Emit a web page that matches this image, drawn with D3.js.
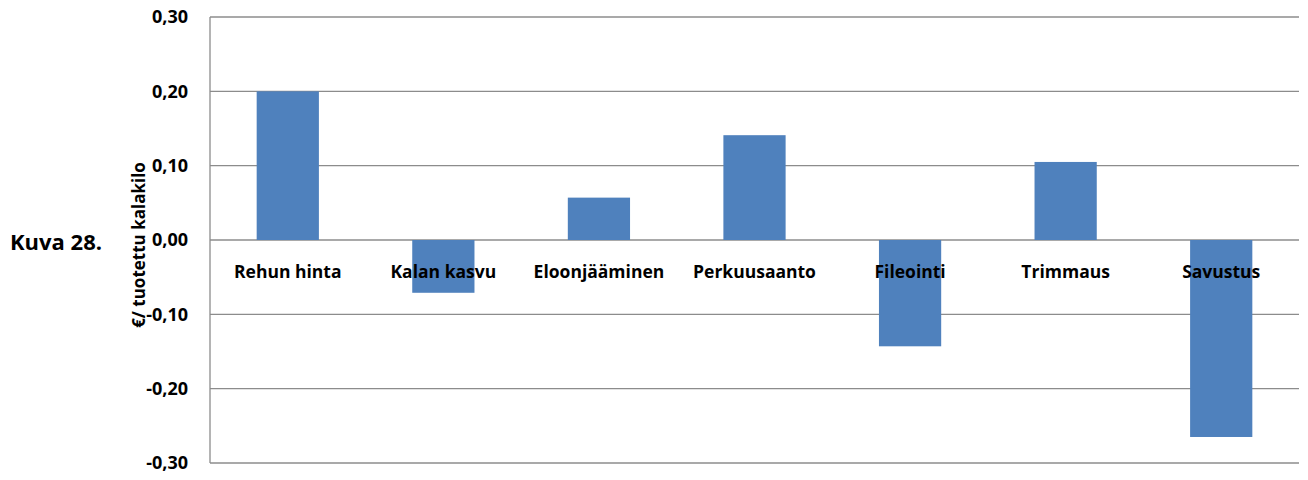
<!DOCTYPE html>
<html>
<head>
<meta charset="utf-8">
<script src="https://cdn.jsdelivr.net/npm/d3@7"></script>
<style>
  body { margin: 0; background: #fff; }
  text { font-family: "Open Sans", sans-serif; font-weight: bold; fill: #000; }
</style>
</head>
<body>
<div id="chart"></div>
<script>
(function () {

    const categories = ["Rehun hinta", "Kalan kasvu", "Eloonjääminen", "Perkuusaanto", "Fileointi", "Trimmaus", "Savustus"];
    const values = [0.200, -0.071, 0.057, 0.141, -0.143, 0.105, -0.265];
    const yTicks = [0.30, 0.20, 0.10, 0.00, -0.10, -0.20, -0.30];
    const yTitle = "€/ tuotettu kalakilo";
    const figLabel = "Kuva 28.";

    const width = 1308, height = 480;
    const left = 210, right = 1299, top = 17, bottom = 463;

    const svg = d3.select("#chart")
        .append("svg")
        .attr("width", width)
        .attr("height", height);

    const xScale = d3.scaleBand()
        .domain(categories)
        .range([left, right])
        .paddingInner(0.6)
        .paddingOuter(0.3);

    const yScale = d3.scaleLinear()
        .domain([-0.3, 0.3])
        .range([bottom, top]);

    const fmt = d => d3.format(".2f")(d).replace(".", ",").replace("−", "-");

    // gridlines
    svg.append("g")
        .selectAll("line")
        .data(yTicks)
        .enter()
        .append("line")
        .attr("x1", left)
        .attr("x2", right)
        .attr("y1", d => yScale(d))
        .attr("y2", d => yScale(d))
        .attr("stroke", "#8c8c8c")
        .attr("stroke-width", 1.3);

    svg.append("line")
        .attr("x1", left).attr("x2", left)
        .attr("y1", top).attr("y2", bottom)
        .attr("stroke", "#8c8c8c")
        .attr("stroke-width", 1.3);

    // bars
    svg.append("g")
        .selectAll("rect")
        .data(values)
        .enter()
        .append("rect")
        .attr("x", (d, i) => xScale(categories[i]))
        .attr("width", xScale.bandwidth())
        .attr("y", d => yScale(Math.max(0, d)))
        .attr("height", d => Math.abs(yScale(d) - yScale(0)))
        .attr("fill", "#4f81bd");

    // y tick labels
    svg.append("g")
        .selectAll("text")
        .data(yTicks)
        .enter()
        .append("text")
        .attr("x", 188)
        .attr("y", d => yScale(d))
        .attr("dy", "0.36em")
        .attr("text-anchor", "end")
        .style("font-size", "18px")
        .text(fmt);

    // category labels
    svg.append("g")
        .selectAll("text")
        .data(categories)
        .enter()
        .append("text")
        .attr("x", d => xScale(d) + xScale.bandwidth() / 2)
        .attr("y", yScale(0) + 38)
        .attr("text-anchor", "middle")
        .style("font-size", "17.5px")
        .text(d => d);

    // axis title
    svg.append("text")
        .attr("transform", `translate(145,245) rotate(-90)`)
        .attr("text-anchor", "middle")
        .style("font-size", "17px")
        .text(yTitle);

    svg.append("text")
        .attr("x", 10)
        .attr("y", 250)
        .style("font-size", "22px")
        .text(figLabel);

})()
</script>
</body>
</html>
